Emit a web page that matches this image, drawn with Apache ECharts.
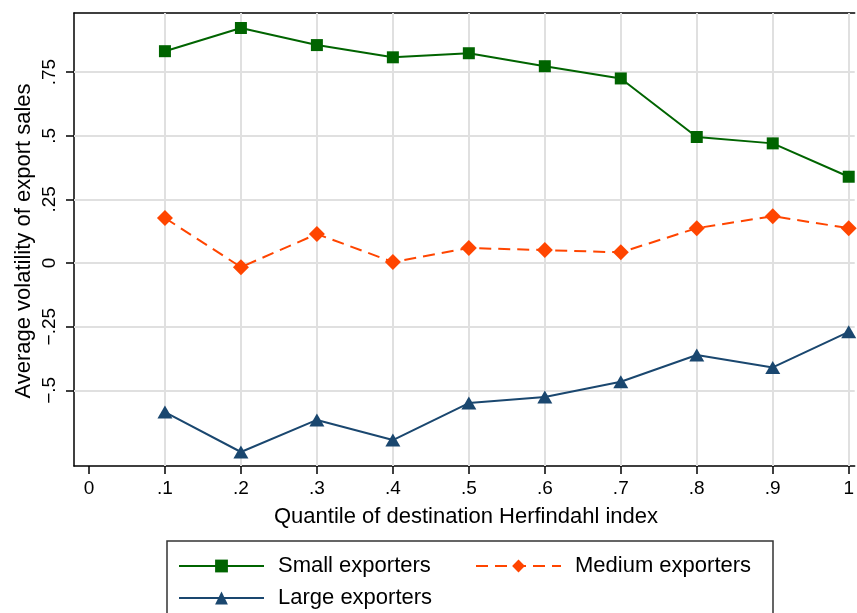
<!DOCTYPE html>
<html><head><meta charset="utf-8">
<script src="https://cdn.jsdelivr.net/npm/echarts@6/dist/echarts.min.js"></script>
<style>html,body{margin:0;padding:0;background:#fff}#c{width:857px;height:613px}</style>
</head><body><div id="c"></div>
<script>
const xValues = [0.1, 0.2, 0.3, 0.4, 0.5, 0.6, 0.7, 0.8, 0.9, 1.0];
const smallExporters = [0.832, 0.923, 0.856, 0.808, 0.824, 0.773, 0.725, 0.495, 0.470, 0.339];
const mediumExporters = [0.177, -0.016, 0.114, 0.004, 0.059, 0.051, 0.042, 0.137, 0.184, 0.137];
const largeExporters = [-0.585, -0.742, -0.616, -0.695, -0.550, -0.526, -0.466, -0.361, -0.410, -0.270];
const xTicks = [0, 0.1, 0.2, 0.3, 0.4, 0.5, 0.6, 0.7, 0.8, 0.9, 1];
const xTickLabels = ['0', '.1', '.2', '.3', '.4', '.5', '.6', '.7', '.8', '.9', '1'];
const yTicks = [-0.5, -0.25, 0, 0.25, 0.5, 0.75];
const yTickLabels = ['\u2212.5', '\u2212.25', '0', '.25', '.5', '.75'];
const seriesNames = ['Small exporters', 'Medium exporters', 'Large exporters'];

const FONT = 'Liberation Sans, Arial, sans-serif';
const chart = echarts.init(document.getElementById('c'), null, {renderer: 'canvas'});
const pair = (arr) => xValues.map((x, i) => [x, arr[i]]);
const xMin = -0.0197, xMax = 1.0079, yMin = -0.797, yMax = 0.982;
const gridStyle = {color: '#e0e0e0', width: 2, type: 'solid'};

const legendBase = {
  orient: 'horizontal', itemWidth: 85, itemHeight: 16, itemGap: 0, padding: 0,
  textStyle: {fontSize: 22, fontFamily: FONT, color: '#000', padding: [0, 0, 0, 9]},
  selectedMode: false
};

chart.setOption({
  animation: false,
  grid: {left: 74, top: 13, right: 0, bottom: 147, containLabel: false},
  xAxis: [{
    type: 'value', min: xMin, max: xMax,
    axisLine: {show: true, onZero: false, lineStyle: {color: '#000', width: 1.5}},
    axisTick: {show: true, customValues: xTicks, length: 8, lineStyle: {color: '#000', width: 1.5}},
    axisLabel: {show: true, customValues: xTicks, margin: 13, fontSize: 19, fontFamily: FONT, color: '#000',
      formatter: (v) => { const i = xTicks.findIndex(t => Math.abs(t - v) < 1e-6); return i >= 0 ? xTickLabels[i] : ''; }},
    splitLine: {show: false}
  }, {
    type: 'value', position: 'top', min: xMin, max: xMax,
    axisLine: {show: true, onZero: false, lineStyle: {color: '#000', width: 1.5}},
    axisTick: {show: false}, axisLabel: {show: false}, splitLine: {show: false}
  }],
  yAxis: {
    type: 'value', min: yMin, max: yMax,
    axisLine: {show: true, onZero: false, lineStyle: {color: '#000', width: 1.5}},
    axisTick: {show: true, customValues: yTicks, length: 8, lineStyle: {color: '#000', width: 1.5}},
    axisLabel: {show: true, customValues: yTicks, rotate: 90, margin: 15, fontSize: 19, fontFamily: FONT, color: '#000',
      formatter: (v) => { const i = yTicks.findIndex(t => Math.abs(t - v) < 1e-6); return i >= 0 ? yTickLabels[i] : ''; }},
    splitLine: {show: false}
  },
  legend: [
    Object.assign({}, legendBase, {data: [seriesNames[0]], left: 178, top: 555}),
    Object.assign({}, legendBase, {data: [seriesNames[1]], left: 475, top: 555}),
    Object.assign({}, legendBase, {data: [seriesNames[2]], left: 178, top: 587})
  ],
  graphic: [
    {type: 'rect', shape: {x: 167, y: 541, width: 606, height: 90}, style: {fill: 'none', stroke: '#333', lineWidth: 1.5}, z: 0},
    {type: 'text', x: 466, y: 517, style: {text: 'Quantile of destination Herfindahl index', fontSize: 22, fontFamily: FONT, fill: '#000', align: 'center', verticalAlign: 'middle'}},
    {type: 'text', x: 24, y: 241, rotation: Math.PI / 2, style: {text: 'Average volatility of export sales', fontSize: 22, fontFamily: FONT, fill: '#000', align: 'center', verticalAlign: 'middle'}}
  ],
  series: [
    {
      type: 'line', name: '_grid', data: [], silent: true, z: 1,
      markLine: {
        silent: true, symbol: 'none', label: {show: false}, lineStyle: gridStyle, animation: false,
        data: xValues.map(v => ({xAxis: v})).concat(yTicks.map(v => ({yAxis: v})))
      }
    },
    {
      type: 'line', name: seriesNames[0], data: pair(smallExporters), z: 5,
      symbol: 'rect', symbolSize: 12,
      lineStyle: {color: '#006400', width: 2}, itemStyle: {color: '#006400'}
    },
    {
      type: 'line', name: seriesNames[1], data: pair(mediumExporters), z: 5,
      symbol: 'diamond', symbolSize: [16, 16],
      lineStyle: {color: '#ff4500', width: 2, type: [12, 7]}, itemStyle: {color: '#ff4500'}
    },
    {
      type: 'line', name: seriesNames[2], data: pair(largeExporters), z: 5,
      symbol: 'triangle', symbolSize: [15, 13],
      lineStyle: {color: '#1a476f', width: 2}, itemStyle: {color: '#1a476f'}
    }
  ]
});
</script></body></html>
